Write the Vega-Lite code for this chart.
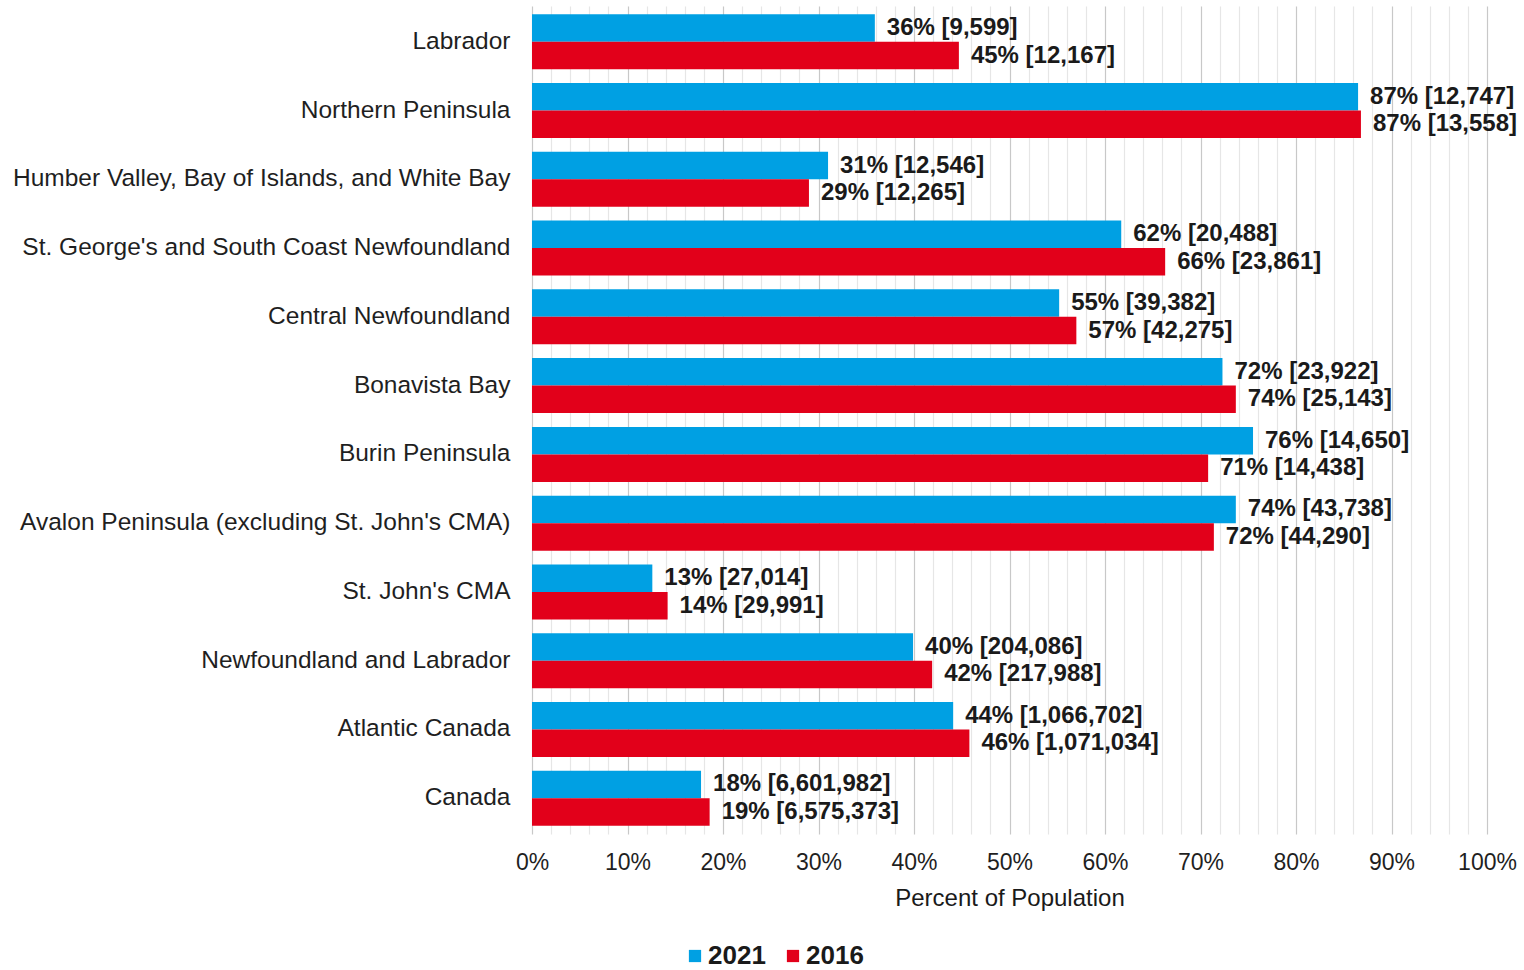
{
  "$schema": "https://vega.github.io/schema/vega-lite/v6.json",
  "autosize": {"type": "none"},
  "padding": {"left": 532, "top": 6, "right": 37, "bottom": 136},
  "width": 955,
  "height": 828,
  "background": "white",
  "config": {
    "view": {"stroke": null},
    "font": "Liberation Sans"
  },
  "data": {
    "values": [
      {"region": "Labrador", "year": "2021", "pct": 0.359, "label": "36% [9,599]"},
      {"region": "Labrador", "year": "2016", "pct": 0.447, "label": "45% [12,167]"},
      {"region": "Northern Peninsula", "year": "2021", "pct": 0.865, "label": "87% [12,747]"},
      {"region": "Northern Peninsula", "year": "2016", "pct": 0.868, "label": "87% [13,558]"},
      {"region": "Humber Valley, Bay of Islands, and White Bay", "year": "2021", "pct": 0.310, "label": "31% [12,546]"},
      {"region": "Humber Valley, Bay of Islands, and White Bay", "year": "2016", "pct": 0.290, "label": "29% [12,265]"},
      {"region": "St. George's and South Coast Newfoundland", "year": "2021", "pct": 0.617, "label": "62% [20,488]"},
      {"region": "St. George's and South Coast Newfoundland", "year": "2016", "pct": 0.663, "label": "66% [23,861]"},
      {"region": "Central Newfoundland", "year": "2021", "pct": 0.552, "label": "55% [39,382]"},
      {"region": "Central Newfoundland", "year": "2016", "pct": 0.570, "label": "57% [42,275]"},
      {"region": "Bonavista Bay", "year": "2021", "pct": 0.723, "label": "72% [23,922]"},
      {"region": "Bonavista Bay", "year": "2016", "pct": 0.737, "label": "74% [25,143]"},
      {"region": "Burin Peninsula", "year": "2021", "pct": 0.755, "label": "76% [14,650]"},
      {"region": "Burin Peninsula", "year": "2016", "pct": 0.708, "label": "71% [14,438]"},
      {"region": "Avalon Peninsula (excluding St. John's CMA)", "year": "2021", "pct": 0.737, "label": "74% [43,738]"},
      {"region": "Avalon Peninsula (excluding St. John's CMA)", "year": "2016", "pct": 0.714, "label": "72% [44,290]"},
      {"region": "St. John's CMA", "year": "2021", "pct": 0.126, "label": "13% [27,014]"},
      {"region": "St. John's CMA", "year": "2016", "pct": 0.142, "label": "14% [29,991]"},
      {"region": "Newfoundland and Labrador", "year": "2021", "pct": 0.399, "label": "40% [204,086]"},
      {"region": "Newfoundland and Labrador", "year": "2016", "pct": 0.419, "label": "42% [217,988]"},
      {"region": "Atlantic Canada", "year": "2021", "pct": 0.441, "label": "44% [1,066,702]"},
      {"region": "Atlantic Canada", "year": "2016", "pct": 0.458, "label": "46% [1,071,034]"},
      {"region": "Canada", "year": "2021", "pct": 0.177, "label": "18% [6,601,982]"},
      {"region": "Canada", "year": "2016", "pct": 0.186, "label": "19% [6,575,373]"}
    ]
  },
  "encoding": {
    "y": {
      "field": "region",
      "type": "nominal",
      "sort": null,
      "scale": {"paddingInner": 0.2, "paddingOuter": 0.12},
      "axis": {
        "title": null,
        "domain": false,
        "ticks": false,
        "labelFontSize": 24.5,
        "labelColor": "#1f1f1f",
        "labelPadding": 22,
        "labelLimit": 600
      }
    },
    "yOffset": {"field": "year", "type": "nominal", "sort": ["2021", "2016"]},
    "x": {
      "field": "pct",
      "type": "quantitative",
      "scale": {"domain": [0, 1], "nice": false},
      "axis": {
        "title": "Percent of Population",
        "titleFontSize": 24,
        "titleFontWeight": "normal",
        "titleColor": "#1a1a1a",
        "titlePadding": 12,
        "format": ".0%",
        "values": [0, 0.02, 0.04, 0.06, 0.08, 0.1, 0.12, 0.14, 0.16, 0.18, 0.2, 0.22, 0.24, 0.26, 0.28, 0.3, 0.32, 0.34, 0.36, 0.38, 0.4, 0.42, 0.44, 0.46, 0.48, 0.5, 0.52, 0.54, 0.56, 0.58, 0.6, 0.62, 0.64, 0.66, 0.68, 0.7, 0.72, 0.74, 0.76, 0.78, 0.8, 0.82, 0.84, 0.86, 0.88, 0.9, 0.92, 0.94, 0.96, 0.98, 1],
        "labelExpr": "round(datum.value*100) % 10 === 0 ? datum.label : ''",
        "labelFontSize": 23,
        "labelColor": "#1f1f1f",
        "labelPadding": 17,
        "labelOverlap": false,
        "labelFlush": false,
        "ticks": false,
        "domain": false,
        "grid": true,
        "gridColor": {"condition": {"test": "round(datum.value*100) % 10 === 0", "value": "#c8c8c8"}, "value": "#e6e6e6"},
        "gridWidth": 1.2
      }
    }
  },
  "layer": [
    {
      "mark": {"type": "bar"},
      "encoding": {
        "color": {
          "field": "year",
          "type": "nominal",
          "sort": ["2021", "2016"],
          "scale": {"domain": ["2021", "2016"], "range": ["#00A0E3", "#E2001A"]},
          "legend": {
            "title": null,
            "orient": "none",
            "direction": "horizontal",
            "legendX": 150,
            "legendY": 937,
            "symbolType": "square",
            "symbolSize": 150,
            "symbolStrokeWidth": 0,
            "labelFontSize": 26,
            "labelFontWeight": "bold",
            "labelColor": "#1a1a1a",
            "labelOffset": 0,
            "columnPadding": 14
          }
        }
      }
    },
    {
      "mark": {"type": "text", "align": "left", "baseline": "middle", "dx": 12, "fontSize": 24, "fontWeight": "bold", "color": "#1a1a1a"},
      "encoding": {
        "text": {"field": "label", "type": "nominal"}
      }
    }
  ]
}
